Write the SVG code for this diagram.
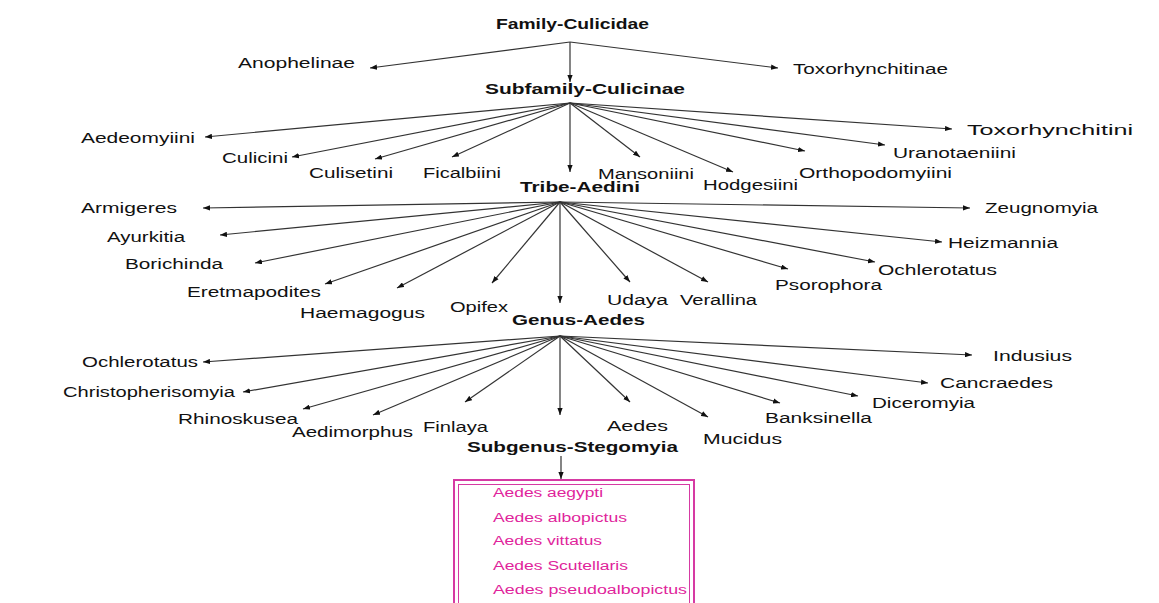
<svg xmlns="http://www.w3.org/2000/svg" width="1159" height="603" viewBox="0 0 1159 603">
<defs>
<style>
text{font-family:"Liberation Sans",Arial,sans-serif;font-size:15.5px;fill:#111111}
.b{font-weight:bold}
.p{font-size:12px;fill:#e0249b}
#connectors line{stroke:#333333;stroke-width:1.2;marker-end:url(#ah)}
</style>
<marker id="ah" viewBox="0 0 8 6" refX="8" refY="3" markerWidth="7" markerHeight="5.5" markerUnits="userSpaceOnUse" orient="auto">
<path d="M0,0 L8,3 L0,6 z" fill="#111111"/>
</marker>
</defs>
<rect width="1159" height="603" fill="#ffffff"/>
<g id="connectors">
<line x1="570" y1="42" x2="370" y2="68"/>
<line x1="570" y1="42" x2="778" y2="68"/>
<line x1="570" y1="42" x2="570" y2="82"/>
<line x1="570" y1="103" x2="205" y2="137"/>
<line x1="570" y1="103" x2="292" y2="157"/>
<line x1="570" y1="103" x2="375" y2="159"/>
<line x1="570" y1="103" x2="452" y2="157"/>
<line x1="570" y1="103" x2="570" y2="172"/>
<line x1="570" y1="103" x2="640" y2="157"/>
<line x1="570" y1="103" x2="733" y2="172"/>
<line x1="570" y1="103" x2="805" y2="151"/>
<line x1="570" y1="103" x2="885" y2="145"/>
<line x1="570" y1="103" x2="952" y2="129"/>
<line x1="560" y1="202" x2="203" y2="208"/>
<line x1="560" y1="202" x2="220" y2="235"/>
<line x1="560" y1="202" x2="255" y2="263"/>
<line x1="560" y1="202" x2="325" y2="284"/>
<line x1="560" y1="202" x2="397" y2="288"/>
<line x1="560" y1="202" x2="492" y2="283"/>
<line x1="560" y1="202" x2="560" y2="303"/>
<line x1="560" y1="202" x2="630" y2="282"/>
<line x1="560" y1="202" x2="708" y2="282"/>
<line x1="560" y1="202" x2="788" y2="269"/>
<line x1="560" y1="202" x2="875" y2="262"/>
<line x1="560" y1="202" x2="942" y2="242"/>
<line x1="560" y1="202" x2="970" y2="208"/>
<line x1="560" y1="336" x2="203" y2="362"/>
<line x1="560" y1="336" x2="243" y2="392"/>
<line x1="560" y1="336" x2="303" y2="409"/>
<line x1="560" y1="336" x2="373" y2="415"/>
<line x1="560" y1="336" x2="465" y2="402"/>
<line x1="560" y1="336" x2="560" y2="415"/>
<line x1="560" y1="336" x2="630" y2="402"/>
<line x1="560" y1="336" x2="708" y2="417"/>
<line x1="560" y1="336" x2="780" y2="403"/>
<line x1="560" y1="336" x2="858" y2="396"/>
<line x1="560" y1="336" x2="928" y2="383"/>
<line x1="560" y1="336" x2="972" y2="355"/>
<line x1="561" y1="456" x2="561" y2="479"/>
</g>
<g id="n-family"><text class="b" x="496" y="29" textLength="153" lengthAdjust="spacingAndGlyphs">Family-Culicidae</text></g>
<g id="n-anophelinae"><text x="238" y="68" textLength="117" lengthAdjust="spacingAndGlyphs">Anophelinae</text></g>
<g id="n-toxorhynchitinae"><text x="793" y="74" textLength="155" lengthAdjust="spacingAndGlyphs">Toxorhynchitinae</text></g>
<g id="n-subfamily"><text class="b" x="485" y="94" textLength="200" lengthAdjust="spacingAndGlyphs">Subfamily-Culicinae</text></g>
<g id="n-aedeomyiini"><text x="81" y="143" textLength="114" lengthAdjust="spacingAndGlyphs">Aedeomyiini</text></g>
<g id="n-culicini"><text x="222" y="163" textLength="66" lengthAdjust="spacingAndGlyphs">Culicini</text></g>
<g id="n-culisetini"><text x="309" y="178" textLength="84" lengthAdjust="spacingAndGlyphs">Culisetini</text></g>
<g id="n-ficalbiini"><text x="423" y="178" textLength="78" lengthAdjust="spacingAndGlyphs">Ficalbiini</text></g>
<g id="n-mansoniini"><text x="598" y="179" textLength="96" lengthAdjust="spacingAndGlyphs">Mansoniini</text></g>
<g id="n-hodgesiini"><text x="703" y="190" textLength="95" lengthAdjust="spacingAndGlyphs">Hodgesiini</text></g>
<g id="n-orthopodomyiini"><text x="799" y="178" textLength="153" lengthAdjust="spacingAndGlyphs">Orthopodomyiini</text></g>
<g id="n-uranotaeniini"><text x="893" y="158" textLength="123" lengthAdjust="spacingAndGlyphs">Uranotaeniini</text></g>
<g id="n-toxorhynchitini"><text x="967" y="135" textLength="166" lengthAdjust="spacingAndGlyphs">Toxorhynchitini</text></g>
<g id="n-tribe"><text class="b" x="520" y="192" textLength="120" lengthAdjust="spacingAndGlyphs">Tribe-Aedini</text></g>
<g id="n-armigeres"><text x="81" y="213" textLength="96" lengthAdjust="spacingAndGlyphs">Armigeres</text></g>
<g id="n-ayurkitia"><text x="107" y="242" textLength="78" lengthAdjust="spacingAndGlyphs">Ayurkitia</text></g>
<g id="n-borichinda"><text x="125" y="269" textLength="98" lengthAdjust="spacingAndGlyphs">Borichinda</text></g>
<g id="n-eretmapodites"><text x="187" y="297" textLength="134" lengthAdjust="spacingAndGlyphs">Eretmapodites</text></g>
<g id="n-haemagogus"><text x="300" y="318" textLength="125" lengthAdjust="spacingAndGlyphs">Haemagogus</text></g>
<g id="n-opifex"><text x="450" y="312" textLength="58" lengthAdjust="spacingAndGlyphs">Opifex</text></g>
<g id="n-udaya"><text x="607" y="305" textLength="61" lengthAdjust="spacingAndGlyphs">Udaya</text></g>
<g id="n-verallina"><text x="680" y="305" textLength="77" lengthAdjust="spacingAndGlyphs">Verallina</text></g>
<g id="n-psorophora"><text x="775" y="290" textLength="107" lengthAdjust="spacingAndGlyphs">Psorophora</text></g>
<g id="n-ochlerotatus1"><text x="878" y="275" textLength="119" lengthAdjust="spacingAndGlyphs">Ochlerotatus</text></g>
<g id="n-heizmannia"><text x="948" y="248" textLength="110" lengthAdjust="spacingAndGlyphs">Heizmannia</text></g>
<g id="n-zeugnomyia"><text x="985" y="213" textLength="113" lengthAdjust="spacingAndGlyphs">Zeugnomyia</text></g>
<g id="n-genus"><text class="b" x="512" y="325" textLength="133" lengthAdjust="spacingAndGlyphs">Genus-Aedes</text></g>
<g id="n-ochlerotatus2"><text x="82" y="367" textLength="116" lengthAdjust="spacingAndGlyphs">Ochlerotatus</text></g>
<g id="n-christopherisomyia"><text x="63" y="397" textLength="172" lengthAdjust="spacingAndGlyphs">Christopherisomyia</text></g>
<g id="n-rhinoskusea"><text x="178" y="424" textLength="120" lengthAdjust="spacingAndGlyphs">Rhinoskusea</text></g>
<g id="n-aedimorphus"><text x="292" y="437" textLength="121" lengthAdjust="spacingAndGlyphs">Aedimorphus</text></g>
<g id="n-finlaya"><text x="423" y="432" textLength="65" lengthAdjust="spacingAndGlyphs">Finlaya</text></g>
<g id="n-aedes"><text x="607" y="431" textLength="61" lengthAdjust="spacingAndGlyphs">Aedes</text></g>
<g id="n-mucidus"><text x="703" y="444" textLength="79" lengthAdjust="spacingAndGlyphs">Mucidus</text></g>
<g id="n-banksinella"><text x="765" y="423" textLength="107" lengthAdjust="spacingAndGlyphs">Banksinella</text></g>
<g id="n-diceromyia"><text x="872" y="408" textLength="103" lengthAdjust="spacingAndGlyphs">Diceromyia</text></g>
<g id="n-cancraedes"><text x="940" y="388" textLength="113" lengthAdjust="spacingAndGlyphs">Cancraedes</text></g>
<g id="n-indusius"><text x="993" y="361" textLength="79" lengthAdjust="spacingAndGlyphs">Indusius</text></g>
<g id="n-subgenus"><text class="b" x="467" y="452" textLength="211" lengthAdjust="spacingAndGlyphs">Subgenus-Stegomyia</text></g>
<g id="n-species">
<rect x="454" y="480" width="240" height="140" fill="none" stroke="#d63aa3" stroke-width="2"/>
<rect x="458.5" y="484.5" width="231" height="140" fill="none" stroke="#d63aa3" stroke-width="1"/>
<text class="p" x="493" y="497" textLength="110" lengthAdjust="spacingAndGlyphs">Aedes aegypti</text>
<text class="p" x="493" y="522" textLength="134" lengthAdjust="spacingAndGlyphs">Aedes albopictus</text>
<text class="p" x="493" y="545" textLength="109" lengthAdjust="spacingAndGlyphs">Aedes vittatus</text>
<text class="p" x="493" y="570" textLength="135" lengthAdjust="spacingAndGlyphs">Aedes Scutellaris</text>
<text class="p" x="493" y="594" textLength="194" lengthAdjust="spacingAndGlyphs">Aedes pseudoalbopictus</text>
</g>
</svg>
